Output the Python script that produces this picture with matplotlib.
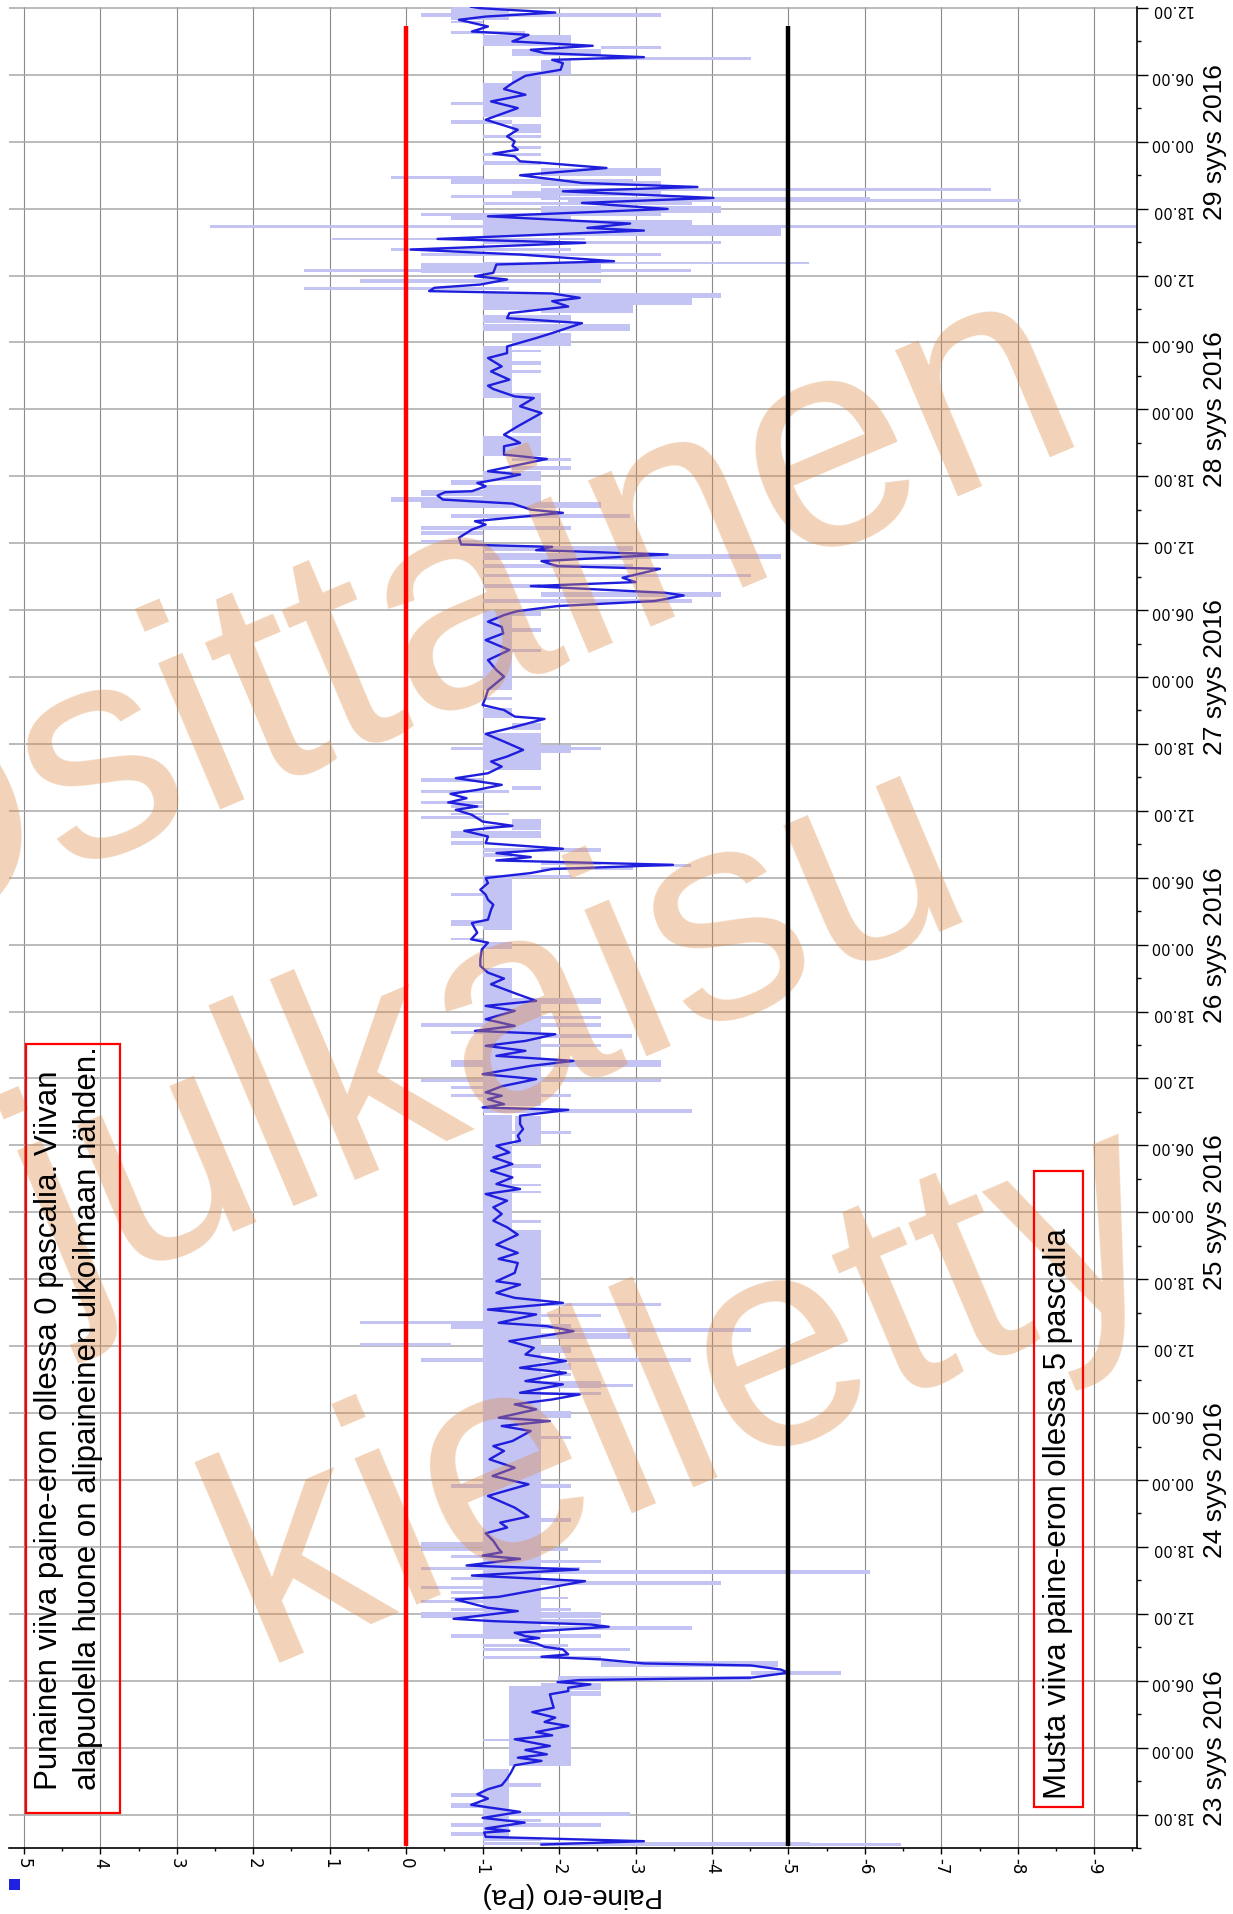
import matplotlib
matplotlib.use("Agg")
import matplotlib.pyplot as plt
from matplotlib.patches import Rectangle
from matplotlib.transforms import blended_transform_factory
import numpy as np

plt.rcParams['font.family'] = ['Liberation Sans', 'DejaVu Sans']

# ---------------- data (time in hours from 22 syys 2016 00:00, pressure in Pa) -------------
line_t = [15.31, 15.61, 16.0, 16.39, 16.54, 16.75, 17.28, 17.70, 18.24, 18.87, 19.43, 19.82,
          20.27, 20.63, 21.22, 21.76, 22.42, 22.81, 23.1, 23.4, 23.79, 24.15, 24.75, 25.1,
          25.4, 25.94, 26.3, 26.69, 27.19, 27.58, 28.03, 28.78, 29.07, 29.37, 29.67, 29.88,
          30.06, 30.27, 30.72, 31.0, 31.37, 31.55, 31.91, 32.15, 32.36, 32.81, 33.04, 33.34,
          33.64, 33.82, 34.0, 34.3, 34.84, 35.04, 35.34, 35.55, 36.24, 36.54, 37.28, 37.52,
          38.93, 39.43, 39.97, 40.33, 40.93, 41.22, 41.52, 41.82,
          42.54, 43.22, 43.73, 44.18, 44.72, 45.52, 46.57, 47.61, 48.36, 49.1, 49.85, 50.6,
          51.04, 51.49, 52.39, 52.84, 53.28, 53.58, 54.33, 54.78, 55.22, 55.67, 55.82, 56.57,
          56.87, 57.61, 58.06, 58.66, 59.25, 59.85, 60.45, 61.34, 61.79, 62.09, 62.84, 63.28,
          63.88, 64.33, 64.78, 65.52, 65.82, 66.57, 67.46, 67.82, 68.36, 69.1, 70.0,
          70.66, 71.25, 71.85, 72.45, 73.04, 73.64, 74.09, 74.54, 75.13, 75.73, 76.33, 76.93,
          77.37, 77.97, 78.42, 78.87, 79.46, 79.91, 80.66, 81.19, 81.4, 81.7, 82.15, 82.45,
          82.75, 83.3, 83.94, 84.39, 85.13, 85.58, 86.03, 86.48, 86.93, 87.37, 87.97, 88.27,
          88.72, 89.31, 90.06, 90.51, 90.96, 91.55, 92.45, 92.96, 93.49, 94.09, 94.69, 95.58,
          96.18, 96.48, 97.07, 97.67,
          97.94, 98.24, 99.13, 99.58, 100.03, 100.48, 100.93, 101.52, 101.97, 102.42, 102.78,
          103.16, 103.55, 103.85, 104.21, 104.6, 105.1, 105.7, 106.21, 106.45, 106.66, 107.04,
          107.64, 108.09, 108.39, 108.75, 109.13, 109.52, 109.88, 110.33, 110.93, 111.37,
          111.97, 112.42, 112.87, 113.46, 114.21, 114.9, 115.4, 116.24, 116.45, 117.04, 117.49,
          118.18, 118.84, 120.03, 120.63, 121.52, 122.42, 123.31, 123.91, 124.5, 124.96, 125.55,
          125.9, 126.36, 126.81, 127.31, 127.55, 128.15, 128.51, 128.9, 129.7, 129.94, 130.39,
          130.99, 131.37, 131.67, 131.88, 132.48, 133.22, 133.67, 133.97, 134.27, 134.72,
          135.01, 135.55, 135.91, 136.27, 136.57, 136.66, 137.1, 137.4, 137.7, 138.15, 138.45,
          139.55, 139.94, 140.69, 140.99, 141.73, 142.48, 143.67, 144.27, 145.01, 145.16,
          145.82, 146.12, 146.66, 147.4, 147.85, 148.6, 149.04, 149.64, 150.39, 150.84, 151.73,
          152.18, 152.63, 153.22, 153.7,
          154.0, 154.39, 154.6, 154.9, 155.19, 155.64, 155.94, 156.24, 156.99, 157.28, 157.88,
          158.33, 158.93, 159.28, 160.03, 160.27, 160.66, 161.31, 161.97, 162.51, 162.96,
          163.55, 163.94, 164.3, 164.99, 165.64, 166.09, 166.24, 166.69, 166.93, 167.28, 167.64,
          168.03, 168.48, 169.07, 169.37, 169.97, 171.01, 171.61, 172.21, 172.72, 173.25,
          173.91, 174.45, 175.04, 175.34, 175.58, 175.94, 176.24, 176.6, 176.99, 177.58,
          177.88, 178.33, 178.93, 179.22, 179.58, 179.97, 180.1]

line_p = [-1.77, -3.11, -1.04, -1.02, -1.35, -1.04, -1.55, -1.0, -1.49, -0.85, -1.07, -0.93,
          -1.07, -1.25, -1.32, -1.37, -1.42, -1.77, -1.46, -1.84, -1.56, -1.88, -1.42, -1.91,
          -1.70, -2.12, -1.81, -1.95, -1.65, -1.93, -1.91, -1.88, -2.12, -2.12, -2.41, -1.98,
          -2.27, -4.51, -5.0, -4.9, -4.51, -3.11, -2.55, -1.77, -2.12, -2.05, -1.81, -1.70,
          -1.49, -1.74, -1.56, -1.42, -2.65, -2.41, -1.14, -0.62, -1.46, -1.07, -0.65, -1.21,
          -2.34, -0.86, -2.25, -0.79, -1.49, -1.0, -1.25, -1.21,
          -1.14, -1.04, -1.32, -1.23, -1.60, -1.42, -1.07, -1.60, -1.13, -1.42, -1.09, -1.28,
          -1.14, -1.39, -1.63, -1.25, -1.88, -1.21, -1.70, -1.42, -1.91, -2.27, -1.49, -2.05,
          -1.56, -2.09, -1.49, -2.09, -1.56, -1.67, -1.35, -2.19, -1.84, -1.21, -1.70, -1.07,
          -2.05, -1.42, -1.18, -1.49, -1.18, -1.42, -1.46, -1.21, -1.46, -1.18, -1.46,
          -1.32, -1.14, -1.25, -1.14, -1.32, -1.04, -1.49, -1.18, -1.39, -1.11, -1.39, -1.14,
          -1.35, -1.18, -1.49, -1.46, -1.53, -1.49, -1.49, -2.12, -1.0, -1.28, -1.07, -1.25,
          -1.04, -1.25, -1.70, -1.0, -1.63, -2.19, -1.18, -1.56, -1.04, -1.56, -1.95, -0.90,
          -1.42, -1.04, -1.42, -1.04, -1.70, -1.46, -1.11, -1.28, -1.07, -0.97, -0.97, -0.99,
          -1.07, -0.85, -0.93, -0.88,
          -0.86, -1.07, -1.11, -1.14, -1.07, -1.04, -0.97, -1.07, -1.04, -1.63, -1.91,
          -3.49, -1.18, -1.63, -1.18, -2.05, -1.04, -1.07, -0.76, -1.07, -1.39, -1.0,
          -0.86, -0.65, -0.93, -0.55, -0.79, -0.58, -0.93, -1.25, -0.65, -1.07,
          -1.25, -1.11, -1.32, -1.53, -1.28, -1.04, -1.35, -1.81, -1.42, -1.28, -1.0,
          -1.04, -1.07, -1.28, -1.18, -1.07, -1.35, -1.04, -1.27, -1.25, -1.07, -1.28,
          -1.45, -1.98, -3.25, -3.63, -3.39, -1.63, -3.0, -2.83, -3.32, -1.98, -1.77,
          -3.42, -1.70, -1.91, -0.72, -0.69, -0.86, -1.04, -0.90, -1.35, -2.05,
          -1.63, -1.39, -0.48, -0.41, -0.51, -0.86, -1.04, -0.93, -1.18, -1.49, -1.07,
          -1.84, -1.28, -1.28, -1.49, -1.28, -1.46, -1.77, -1.49, -1.67, -1.42,
          -1.14, -1.07, -1.35, -1.11, -1.25, -1.07, -1.32, -1.32, -1.70, -1.91, -2.30,
          -1.32, -1.35, -2.12, -1.91,
          -2.27, -1.91, -0.30, -0.37, -0.97, -1.32, -0.90, -1.14, -1.18, -2.72, -1.49,
          -0.06, -2.34, -0.41, -3.11, -2.37, -2.93, -1.07, -3.42, -2.30, -4.02,
          -2.05, -3.81, -2.30, -1.49, -2.62, -1.81, -1.49, -1.42, -1.14, -1.46, -1.39,
          -1.42, -1.32, -1.46, -1.32, -1.04, -1.46, -1.11, -1.56, -1.28, -1.39,
          -1.56, -2.02, -2.05, -1.91, -3.11, -1.81, -1.63, -2.44, -1.39, -1.60,
          -0.86, -1.07, -0.69, -1.04, -1.95, -0.97, -0.85]

# min/max ranges: start time, end time, low, high
bar_t0 = [15.2, 15.25, 15.64, 15.8, 16.1, 16.9, 17.35, 17.9, 18.6, 19.6, 20.5, 22.35, 24.55,
          28.6, 29.2, 30.0, 30.55, 31.2, 31.95, 32.65, 33.05, 33.7, 33.85, 34.55, 35.05, 35.6,
          36.25, 36.95, 37.35, 37.75, 38.2, 38.6, 39.05, 39.6, 39.95, 40.55, 41.0, 41.6,
          41.8, 63.6, 62.6, 62.0, 61.5, 61.3, 60.6, 60.0, 59.4, 58.6, 57.9, 57.3, 56.25, 56.35,
          55.6, 53.6, 51.65, 47.3, 44.25, 41.95,
          69.6, 91.25, 78.0, 97.95, 97.7, 96.4, 95.6, 90.65, 89.85, 89.3, 88.65, 88.25, 88.0,
          87.65, 86.8, 86.3, 85.0, 84.4, 83.65, 83.05, 82.3, 81.85, 80.95, 79.0, 76.0, 74.35,
          73.75, 71.05, 69.65, 81.55,
          118.8, 97.35, 111.7, 124.05, 122.25, 117.95, 116.3, 115.25, 113.15, 113.45, 110.6,
          109.9, 109.6, 108.6, 108.25, 107.6, 107.25, 106.25, 106.45, 105.55, 104.95, 104.35,
          103.9, 103.15, 103.0, 102.65, 101.95, 100.35, 97.65,
          153.6, 152.9, 152.6, 151.7, 151.0, 149.65, 145.0, 149.1, 148.0, 147.25, 141.9, 139.8,
          139.35, 138.6, 137.55, 137.25, 135.15, 136.2, 135.65, 135.15, 134.25, 133.2, 132.75,
          132.0, 131.3, 130.5, 130.6, 129.8, 128.95, 128.0, 127.2, 126.6, 125.5,
          179.5, 179.2, 178.9, 178.6, 177.7, 176.55, 176.3, 175.65, 175.3, 174.0, 172.05,
          172.05, 171.3, 170.25, 169.6, 168.8, 168.3, 167.3, 166.7, 165.95, 164.9, 164.65,
          164.25, 164.0, 163.55, 163.1, 162.95, 162.8, 162.6, 162.35, 161.6, 161.35, 160.95,
          160.55, 160.3, 159.5, 159.15, 158.8, 158.2, 157.75, 157.0, 156.25, 156.35, 155.35,
          154.7, 154.0, 153.4]
bar_t1 = [15.45, 15.55, 15.94, 22.1, 16.4, 17.2, 17.6, 18.2, 19.05, 19.9, 20.85, 29.5, 24.8,
          29.1, 29.8, 30.4, 30.85, 31.75, 32.25, 32.9, 33.25, 42.6, 34.15, 34.95, 35.5, 36.15,
          36.55, 37.2, 37.55, 38.0, 38.5, 38.9, 39.3, 39.9, 40.2, 40.85, 41.3, 41.9,
          70.4, 63.9, 62.9, 62.25, 61.95, 61.6, 61.2, 60.25, 60.0, 58.9, 58.5, 57.55, 56.85,
          56.6, 55.9, 54.2, 51.95, 47.6, 44.55, 42.4,
          80.7, 93.9, 80.65, 98.25, 97.9, 96.6, 96.2, 91.25, 90.55, 89.6, 88.95, 88.55, 88.25,
          87.95, 87.05, 86.6, 85.65, 84.7, 83.95, 83.35, 82.6, 82.15, 81.25, 79.3, 76.3, 74.55,
          73.95, 71.3, 69.9, 91.1,
          125.7, 102.1, 115.0, 124.35, 122.55, 118.2, 117.2, 115.85, 113.9, 113.7, 110.9,
          110.2, 109.9, 108.9, 108.55, 107.85, 107.55, 107.25, 106.75, 106.15, 105.25, 104.65,
          104.2, 103.45, 103.25, 102.95, 102.25, 100.6, 97.95,
          153.8, 153.55, 152.9, 152.45, 151.65, 150.85, 149.65, 149.35, 148.3, 147.55, 145.5,
          141.6, 139.65, 138.9, 138.45, 137.7, 137.25, 136.8, 136.15, 135.65, 134.65, 133.5,
          133.05, 132.25, 131.75, 131.1, 131.0, 130.1, 129.2, 128.3, 127.6, 127.0, 125.9,
          180.1, 179.5, 179.2, 178.85, 177.95, 177.6, 176.55, 176.3, 175.6, 175.3, 174.3,
          173.25, 171.6, 172.05, 169.9, 169.6, 168.6, 167.6, 167.0, 166.25, 165.65, 164.95,
          164.65, 164.45, 163.85, 163.55, 163.25, 163.05, 162.85, 162.6, 162.25, 161.65, 161.3,
          160.95, 160.55, 160.3, 159.4, 159.1, 158.5, 158.05, 157.25, 157.15, 156.6, 155.7,
          155.0, 154.45, 154.0]
bar_lo = [-1.77, -1.0, -1.0, -1.0, -0.58, -0.58, -1.0, -1.0, -0.58, -0.58, -1.0, -1.35, -1.0,
          -1.77, -1.77, -1.98, -4.51, -2.55, -1.0, -1.0, -1.0, -1.0, -0.58, -1.0, -1.35, -0.2,
          -0.58, -0.2, -0.58, -0.58, -0.2, -1.0, -0.58, -1.0, -0.2, -1.0, -0.58, -0.2,
          -1.0, -1.77, -1.77, 0.6, -0.58, -2.16, -1.0, 0.6, -1.0, -0.2, -1.35, -1.0, -1.35,
          -2.55, -1.0, -1.0, -1.35, -0.58, -1.77, -0.2,
          -1.0, -1.0, -1.42, -0.58, -0.58, -0.58, -1.0, -1.0, -1.0, -1.39, -0.2, -1.0, -0.58,
          -1.77, -1.77, -1.0, -0.58, -1.0, -0.2, -0.58, -0.58, -1.0, -1.0, -1.0, -1.39, -1.39,
          -1.39, -1.39, -1.39, -1.0,
          -1.0, -1.0, -1.0, -1.39, -1.39, -1.0, -1.0, -1.39, -1.39, -0.58, -0.2,
          -1.39, -0.2, -0.2, -0.58, -0.58, -0.2, -1.39, -1.0, -0.58, -0.58, -1.0,
          -1.0, -1.77, -2.97, -1.77, -1.0, -0.58, -0.58,
          -1.0, -1.0, -1.77, -1.0, -1.0, -1.39, -1.0, -1.39, -1.39, -1.39, -1.39, -1.0,
          -1.39, -1.39, -1.0, -0.58, -1.0, -0.2, 0.2, -0.2, -0.58, -0.2, -0.2,
          -0.2, -1.0, -1.0, -2.97, -1.0, -1.0, -1.0, -1.77, -1.0, -1.0,
          -0.58, -0.2, -0.58, -0.58, -0.58, -1.0, -2.55, -1.39, -2.55, -1.77, -1.39,
          -1.0, -0.58, -1.0, -0.58, -1.39, -1.0, -1.39, -1.0, -1.0, -1.77, 0.2,
          -0.58, -1.77, -1.77, -1.39, -0.58, -1.77, -2.12, -1.0, -1.77, -0.2, -0.58,
          -1.0, 2.56, -1.0, 0.97, -1.0, 0.2, -0.2, -1.0, -0.2, 1.34, 0.6,
          1.34, -1.0, -1.0]
bar_hi = [-6.47, -5.28, -1.77, -1.35, -1.35, -2.55, -1.77, -2.93, -1.35, -1.35, -1.77, -2.16,
          -2.16, -2.55, -2.55, -4.51, -5.69, -4.86, -2.55, -2.93, -2.12, -1.77, -2.55, -3.74,
          -2.55, -2.55, -2.16, -1.77, -2.12, -1.35, -1.77, -4.12, -1.0, -6.07, -2.27, -2.55,
          -1.56, -2.12,
          -1.77, -3.34, -2.55, -1.0, -2.16, -4.51, -2.93, -0.58, -2.16, -3.72, -2.16, -2.16,
          -2.55, -2.97, -2.55, -2.16, -2.16, -2.16, -2.16, -1.77,
          -1.39, -1.39, -1.77, -1.39, -1.0, -1.0, -1.39, -2.55, -1.77, -2.55, -2.55, -1.77,
          -1.0, -2.95, -2.55, -1.77, -3.33, -1.77, -3.33, -1.39, -2.16, -1.77, -3.74, -2.16,
          -1.77, -1.77, -1.77, -1.77, -1.77, -1.77,
          -1.39, -1.39, -1.77, -1.77, -1.77, -1.39, -1.39, -1.77, -2.16, -2.55, -1.0,
          -1.77, -1.35, -1.0, -1.0, -1.35, -1.0, -1.77, -1.77, -1.77, -1.0, -2.55,
          -1.39, -2.55, -3.72, -2.97, -2.16, -1.0, -1.0,
          -3.74, -2.97, -2.97, -2.16, -2.93, -2.16, -1.39, -1.77, -1.77, -1.77, -1.77, -1.77,
          -2.16, -2.16, -1.77, -1.0, -1.77, -1.0, -1.0, -2.55, -2.93, -2.16, -1.0,
          -1.0, -2.97, -2.97, -4.9, -2.97, -4.51, -1.77, -4.12, -3.74, -1.77,
          -1.35, -3.33, -1.35, -1.0, -1.56, -2.16, -3.33, -2.55, -4.51, -2.16, -1.77,
          -1.77, -1.39, -1.77, -1.39, -1.77, -1.77, -1.77, -1.77, -1.77, -3.33, -1.0,
          -2.97, -3.33, -7.65, -3.33, -1.98, -6.07, -8.04, -3.74, -4.12, -3.33, -2.16,
          -3.74, -9.56, -4.9, -2.34, -4.12, -2.16, -3.33, -5.27, -2.55, -3.72, -2.55,
          -1.35, -4.12, -3.74]

ref_t = [15.2, 178.4]          # extent of the reference lines
red_level = [0, 0]
black_level = [-5, -5]

p_ticks = list(range(5, -10, -1))
t_major = list(range(18, 181, 6))
day_ticks = [24, 48, 72, 96, 120, 144, 168]
day_labels = ['23 syys 2016', '24 syys 2016', '25 syys 2016', '26 syys 2016',
              '27 syys 2016', '28 syys 2016', '29 syys 2016']

# ---------------- figure ----------------
W, H = 1233, 1914
fig = plt.figure(figsize=(W / 100, H / 100), dpi=100)
ax = fig.add_axes([9.4 / W, 1 - 1848 / H, (1137 - 9.4) / W, (1848 - 7.3) / H])

bar_col = '#c4c4f4'
t0 = np.array(bar_t0); t1 = np.array(bar_t1)
lo = np.array(bar_lo); hi = np.array(bar_hi)
ax.barh((t0 + t1) / 2, hi - lo, left=lo, height=t1 - t0, color=bar_col, linewidth=0, zorder=1)
ax.plot(line_p, line_t, color='#1e1edc', lw=1.7, zorder=2)
ax.plot(red_level, ref_t, color='#ff0000', lw=3.2, zorder=5, solid_capstyle='butt')
ax.plot(black_level, ref_t, color='#000000', lw=3.2, zorder=5, solid_capstyle='butt')

ax.set_xlim(5.19, -9.56)
ax.set_ylim(15.15, 180.05)

ax.set_xticks(p_ticks)
ax.set_xticklabels([str(v) for v in p_ticks], rotation=-90, family='DejaVu Sans', fontsize=12)
ax.set_xticks(np.arange(5, -9.6, -0.5), minor=True)
ax.tick_params(axis='x', which='major', direction='out', length=4, width=1, pad=3)
ax.tick_params(axis='x', which='minor', direction='out', length=2.5, width=1)

ax.yaxis.tick_right()
ax.set_yticks(t_major)
ax.set_yticklabels(['%02d.00' % (v % 24) for v in t_major], rotation=180,
                   family='DejaVu Sans', fontsize=10.5)
ax.set_yticks(list(range(15, 181, 3)), minor=True)
ax.tick_params(axis='y', which='major', direction='out', length=8, width=1, pad=1.5,
               right=True, left=False)
ax.tick_params(axis='y', which='minor', direction='out', length=3, width=1,
               right=True, left=False)

ax.set_axisbelow(True)
ax.grid(axis='x', which='major', color='#8a8a8a', lw=0.8)
ax.grid(axis='y', which='major', color='#a8a8a8', lw=1.1)
for s in ('left', 'top'):
    ax.spines[s].set_visible(False)
for s in ('right', 'bottom'):
    ax.spines[s].set_linewidth(1.2)

# date labels
trans = blended_transform_factory(fig.transFigure, ax.transData)
for d, lab in zip(day_ticks, day_labels):
    ax.text(1215 / W, d, lab, transform=trans, rotation=90, ha='center', va='center',
            fontsize=19, clip_on=False)

# watermark
wm_col = '#dd8c46'
for txt, (xx, yy) in zip(['Osittainen', 'julkaisu', 'kielletty'],
                         [(470, 697), (522, 1112), (720, 1467)]):
    ax.text(xx / W, 1 - yy / H, txt, transform=fig.transFigure, rotation=23,
            rotation_mode='anchor', ha='center', va='baseline', fontsize=216,
            color=wm_col, alpha=0.38, zorder=3, clip_on=False)

# annotation boxes
fig.patches.append(Rectangle((26 / W, 1 - 1813 / H), 93.5 / W, 769.5 / H, fill=False,
                             edgecolor='#ff0000', lw=1.6, transform=fig.transFigure, zorder=6))
fig.text(49 / W, 1 - 1790 / H, 'Punainen viiva paine-eron ollessa 0 pascalia. Viivan',
         rotation=90, rotation_mode='anchor', ha='left', va='center', fontsize=22.5, zorder=7)
fig.text(88 / W, 1 - 1790 / H, 'alapuolella huone on alipaineinen ulkoilmaan nähden.',
         rotation=90, rotation_mode='anchor', ha='left', va='center', fontsize=22.5, zorder=7)

fig.patches.append(Rectangle((1034 / W, 1 - 1807 / H), 49 / W, 636 / H, fill=False,
                             edgecolor='#ff0000', lw=1.6, transform=fig.transFigure, zorder=6))
fig.text(1058 / W, 1 - 1799 / H, 'Musta viiva paine-eron ollessa 5 pascalia',
         rotation=90, rotation_mode='anchor', ha='left', va='center', fontsize=22.5, zorder=7)

# axis title and legend marker
fig.text(573 / W, 1 - 1895 / H, 'Paine-ero (Pa)', rotation=180, ha='center', va='center',
         fontsize=20)
fig.patches.append(Rectangle((9 / W, 1 - 1890 / H), 11 / W, 11 / H, facecolor='#2020e0',
                             edgecolor='none', transform=fig.transFigure))

fig.savefig('out.png', dpi=100)
